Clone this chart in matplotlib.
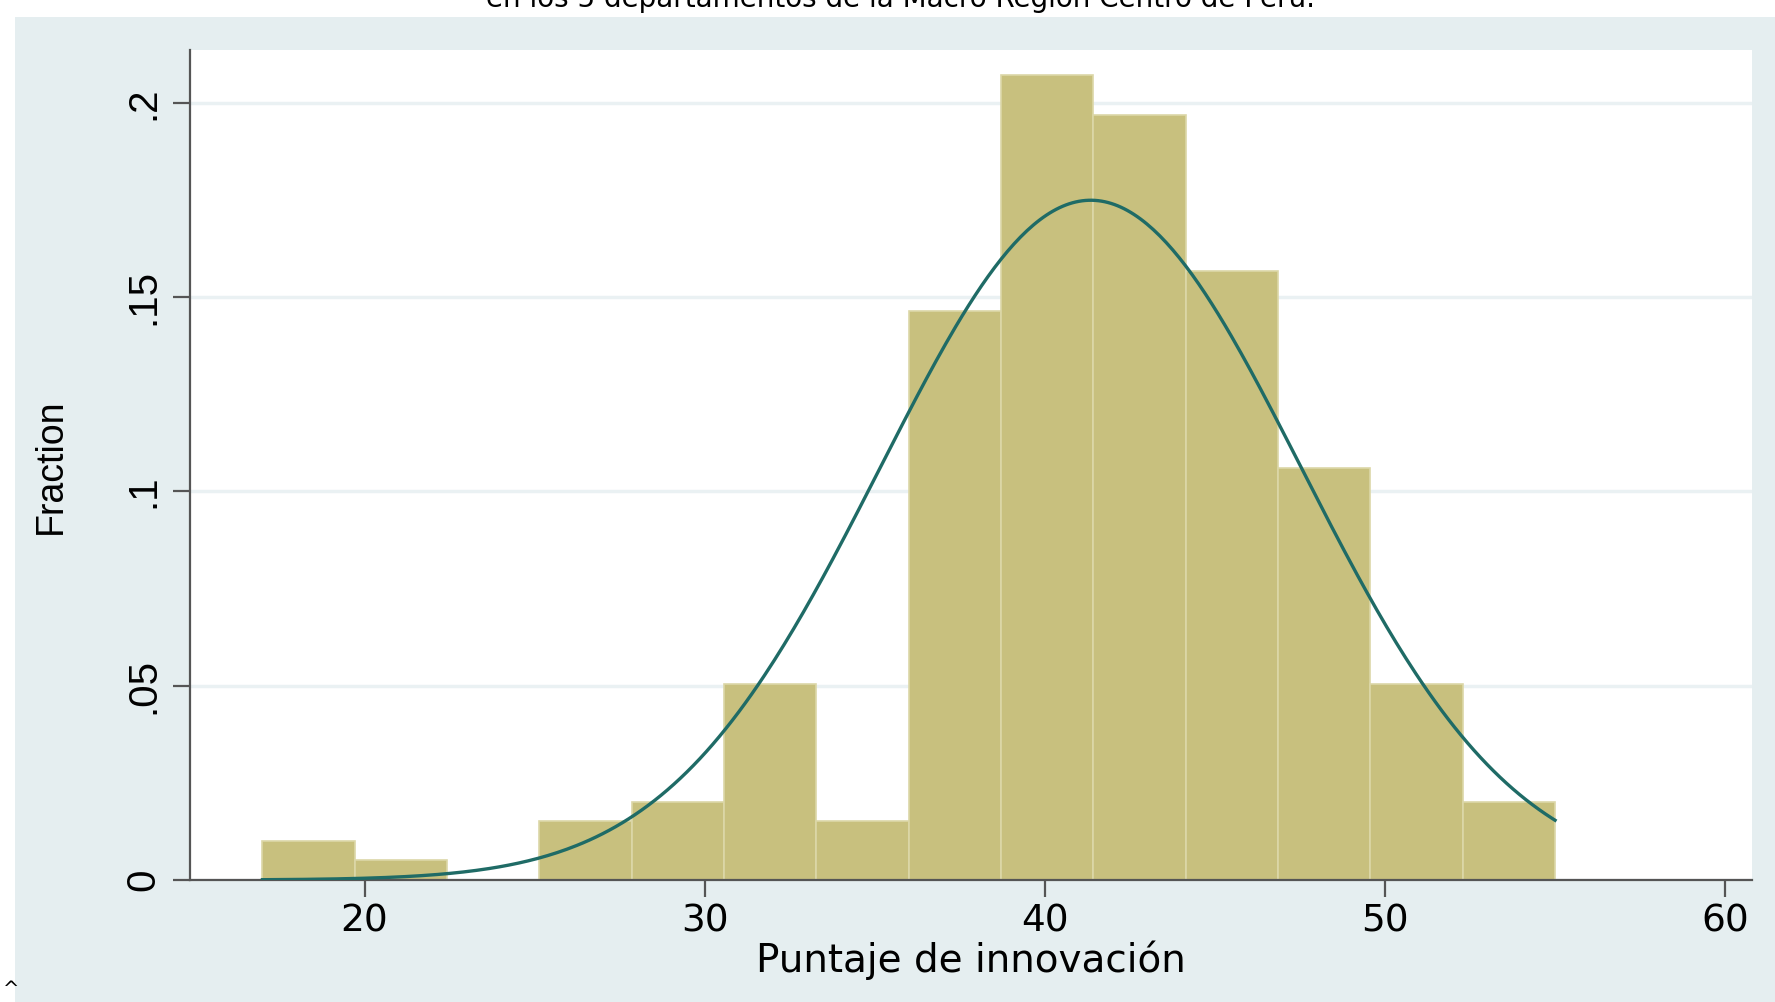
import numpy as np
import matplotlib.pyplot as plt
from matplotlib.patches import Rectangle

# Histogram bins (score of innovation) and fraction per bin
bin_edges = [17.0, 19.714, 22.429, 25.143, 27.857, 30.571, 33.286, 36.0,
             38.714, 41.429, 44.143, 46.857, 49.571, 52.286, 55.0]
fractions = [0.0101, 0.0051, 0.0, 0.0152, 0.0202, 0.0505, 0.0152, 0.1465,
             0.2071, 0.1970, 0.1566, 0.1061, 0.0505, 0.0202]

# Normal overlay parameters
curve_mean = 41.35
curve_sd = 6.19

x_ticks = [20, 30, 40, 50, 60]
y_ticks = [0, 0.05, 0.1, 0.15, 0.2]
y_tick_labels = ['0', '.05', '.1', '.15', '.2']

fig = plt.figure(figsize=(17.75, 10.02), dpi=100)
fig.patch.set_facecolor('white')

# Stata-style light blue panel behind the plot
fig.patches.append(Rectangle((15 / 1775, 0), 1 - 15 / 1775, 1 - 17 / 1002,
                             transform=fig.transFigure, facecolor='#e5eef0',
                             edgecolor='none', zorder=-10))

ax = fig.add_axes([190 / 1775, 1 - 880 / 1002, 1562 / 1775, 830 / 1002])
ax.set_facecolor('white')

widths = np.diff(bin_edges)
ax.bar(bin_edges[:-1], fractions, width=widths, align='edge',
       color='#c8c07e', edgecolor='#dcd7a8', linewidth=1.2, zorder=2)

bw = widths.mean()
xs = np.linspace(bin_edges[0], bin_edges[-1], 400)
ys = bw * np.exp(-0.5 * ((xs - curve_mean) / curve_sd) ** 2) / (curve_sd * np.sqrt(2 * np.pi))
ax.plot(xs, ys, color='#1f6b66', lw=2.4, zorder=3)

ax.set_xlim(14.87, 60.79)
ax.set_ylim(0, 0.2136)

narrow = ['Liberation Sans Narrow', 'Liberation Sans']
ax.set_yticks(y_ticks)
ax.set_yticklabels(y_tick_labels, rotation=90, va='center', family=narrow, fontsize=29)
ax.set_xticks(x_ticks)
ax.set_xticklabels([str(t) for t in x_ticks], family='DejaVu Sans', fontsize=27,
                   fontweight='medium')

ax.yaxis.grid(True, color='#eaf1f3', lw=2.5, zorder=1)
ax.set_axisbelow(True)
for s in ['top', 'right']:
    ax.spines[s].set_visible(False)
for s in ['left', 'bottom']:
    ax.spines[s].set_color('#555555')
    ax.spines[s].set_linewidth(1.6)
ax.tick_params(axis='both', length=12, width=1.6, color='#555555', direction='out')
ax.tick_params(axis='y', pad=8)
ax.tick_params(axis='x', pad=5)

ax.set_xlabel('Puntaje de innovación', family='DejaVu Sans', fontsize=28,
              fontweight='medium', labelpad=1)
fig.text(51 / 1775, 1 - 466 / 1002, 'Fraction', rotation=90, ha='center', va='center',
         family=narrow, fontsize=27)

# Title cut off at the top of the image, as in the source
fig.text(900 / 1775, 1 - 7 / 1002,
         'en los 5 departamentos de la Macro Región Centro de Perú.',
         ha='center', va='baseline', family='DejaVu Sans', fontsize=20)
fig.text(3 / 1775, 1 - 990 / 1002, '^', ha='left', va='center', fontsize=14)

fig.savefig('out.png', dpi=100)
